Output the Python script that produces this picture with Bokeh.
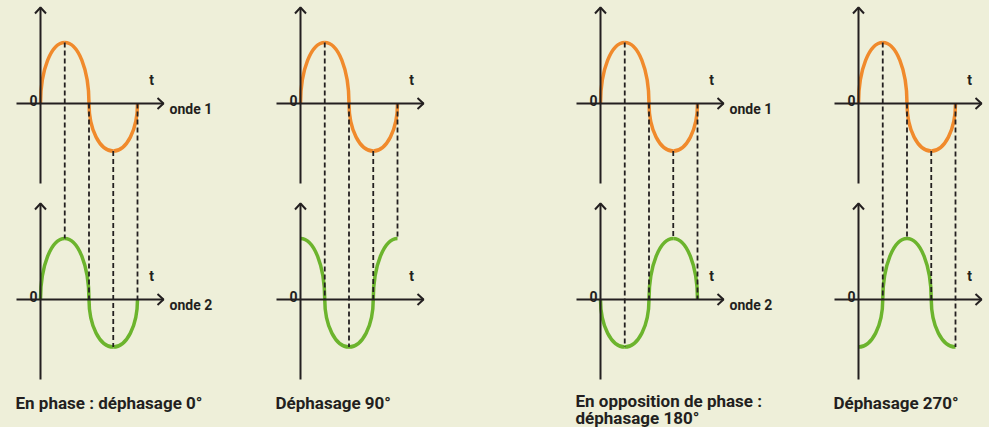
import numpy as np
from bokeh.plotting import figure
from bokeh.models import Range1d, ColumnDataSource
from bokeh.core.properties import value
from bokeh.embed import file_html
from bokeh.resources import INLINE

# ---------------- data ----------------
quarter_t = [0, 90, 180, 270, 360]            # time in degrees at quarter points
onde1 = [0, 1, 0, -0.78, 0]                   # wave 1 values at quarter points
phases = [0, 90, 180, 270]                    # phase shift of wave 2 per panel
onde2_by_phase = {
    0:   [0, 1, 0, -0.78, 0],
    90:  [1, 0, -0.78, 0, 1],
    180: [0, -0.78, 0, 1, 0],
    270: [-0.78, 0, 1, 0, -0.78],
}
captions = [
    ["En phase : déphasage 0°"],
    ["Déphasage 90°"],
    ["En opposition de phase :", "déphasage 180°"],
    ["Déphasage 270°"],
]
show_onde_label = [True, False, True, False]
onde_names = ["onde 1", "onde 2"]
zero_label = "0"
time_label = "t"

# ---------------- layout / style ----------------
W, H = 989, 427
BG = "#eeefd9"
ORANGE = "#f08a2c"
GREEN = "#6cb42d"
INK = "#231f20"
FONT = value("Roboto")
PANEL_X = [40, 300, 600, 858]
AXIS_Y = [103, 299]
PX_PER_DEG = 97 / 360
PX_PER_UNIT = 61
K = 0.5523

p = figure(width=W, height=H, output_backend="svg", toolbar_location=None,
           x_range=Range1d(0, W), y_range=Range1d(H, 0),
           x_axis_type=None, y_axis_type=None, min_border=0)
p.background_fill_color = BG
p.border_fill_color = BG
p.outline_line_color = None
p.grid.visible = False


def to_px(x0, ay, t, v):
    return x0 + t * PX_PER_DEG, ay - v * PX_PER_UNIT


def wave_bezier(x0, ay, vals):
    d = dict(x0=[], y0=[], x1=[], y1=[], cx0=[], cy0=[], cx1=[], cy1=[])
    for i in range(len(quarter_t) - 1):
        xa, ya = to_px(x0, ay, quarter_t[i], vals[i])
        xb, yb = to_px(x0, ay, quarter_t[i + 1], vals[i + 1])
        if vals[i] == 0:
            cx0, cy0 = xa, ya + K * (yb - ya)
            cx1, cy1 = xb - K * (xb - xa), yb
        else:
            cx0, cy0 = xa + K * (xb - xa), ya
            cx1, cy1 = xb, yb + K * (ya - yb)
        for k_, v_ in zip(d.keys(), [xa, ya, xb, yb, cx0, cy0, cx1, cy1]):
            d[k_].append(v_)
    return d


axes_x, axes_y = [], []
heads_x, heads_y = [], []
dash_x0, dash_y0, dash_x1, dash_y1 = [], [], [], []
txt = dict(x=[], y=[], text=[], align=[], size=[])

for pi, ph in enumerate(phases):
    x0 = PANEL_X[pi]
    waves = [onde1, onde2_by_phase[ph]]
    for wi, ay in enumerate(AXIS_Y):
        # axes
        axes_x.append([x0, x0]); axes_y.append([ay + 80, ay - 96])
        axes_x.append([x0 - 24, x0 + 123]); axes_y.append([ay, ay])
        heads_x.append([x0 - 5.5, x0, x0 + 5.5]); heads_y.append([ay - 90, ay - 96, ay - 90])
        heads_x.append([x0 + 117, x0 + 123, x0 + 117]); heads_y.append([ay - 5.5, ay, ay + 5.5])
        # wave
        src = ColumnDataSource(wave_bezier(x0, ay, waves[wi]))
        p.bezier("x0", "y0", "x1", "y1", "cx0", "cy0", "cx1", "cy1", source=src,
                 line_color=ORANGE if wi == 0 else GREEN, line_width=3.5)
        # labels
        txt["x"].append(x0 - 3); txt["y"].append(ay - 3); txt["text"].append(zero_label)
        txt["align"].append("right"); txt["size"].append("14px")
        txt["x"].append(x0 + 111); txt["y"].append(ay - 24); txt["text"].append(time_label)
        txt["align"].append("center"); txt["size"].append("14px")
        if show_onde_label[pi]:
            txt["x"].append(x0 + 129); txt["y"].append(ay + 5); txt["text"].append(onde_names[wi])
            txt["align"].append("left"); txt["size"].append("14px")
    # dashed connectors
    for i in range(1, len(quarter_t)):
        xa, ya = to_px(x0, AXIS_Y[0], quarter_t[i], onde1[i])
        xb, yb = to_px(x0, AXIS_Y[1], quarter_t[i], onde2_by_phase[ph][i])
        dash_x0.append(xa); dash_y0.append(ya); dash_x1.append(xb); dash_y1.append(yb)
    # captions
    base = 402 if len(captions[pi]) == 1 else 400
    for li, line in enumerate(captions[pi]):
        txt["x"].append(x0 - 25); txt["y"].append(base + 17 * li); txt["text"].append(line)
        txt["align"].append("left"); txt["size"].append("17px")

p.segment(dash_x0, dash_y0, dash_x1, dash_y1, line_color=INK, line_width=1.8, line_dash="5 3")
p.multi_line(axes_x, axes_y, line_color=INK, line_width=2)
p.multi_line(heads_x, heads_y, line_color=INK, line_width=2)
p.text("x", "y", text="text", text_align="align", text_font_size="size",
       source=ColumnDataSource(txt), text_font=FONT, text_font_style="bold",
       text_color=INK, text_baseline="alphabetic")

html = None
try:
    from bokeh.core.templates import get_env
    tmpl = get_env().from_string(
        '{% extends "file.html" %}'
        '{% block preamble %}<style>html, body { background: ' + BG + '; }</style>{% endblock %}'
    )
    html = file_html(p, INLINE, template=tmpl)
except Exception:
    html = file_html(p, INLINE)
open("out.html", "w").write(html)
